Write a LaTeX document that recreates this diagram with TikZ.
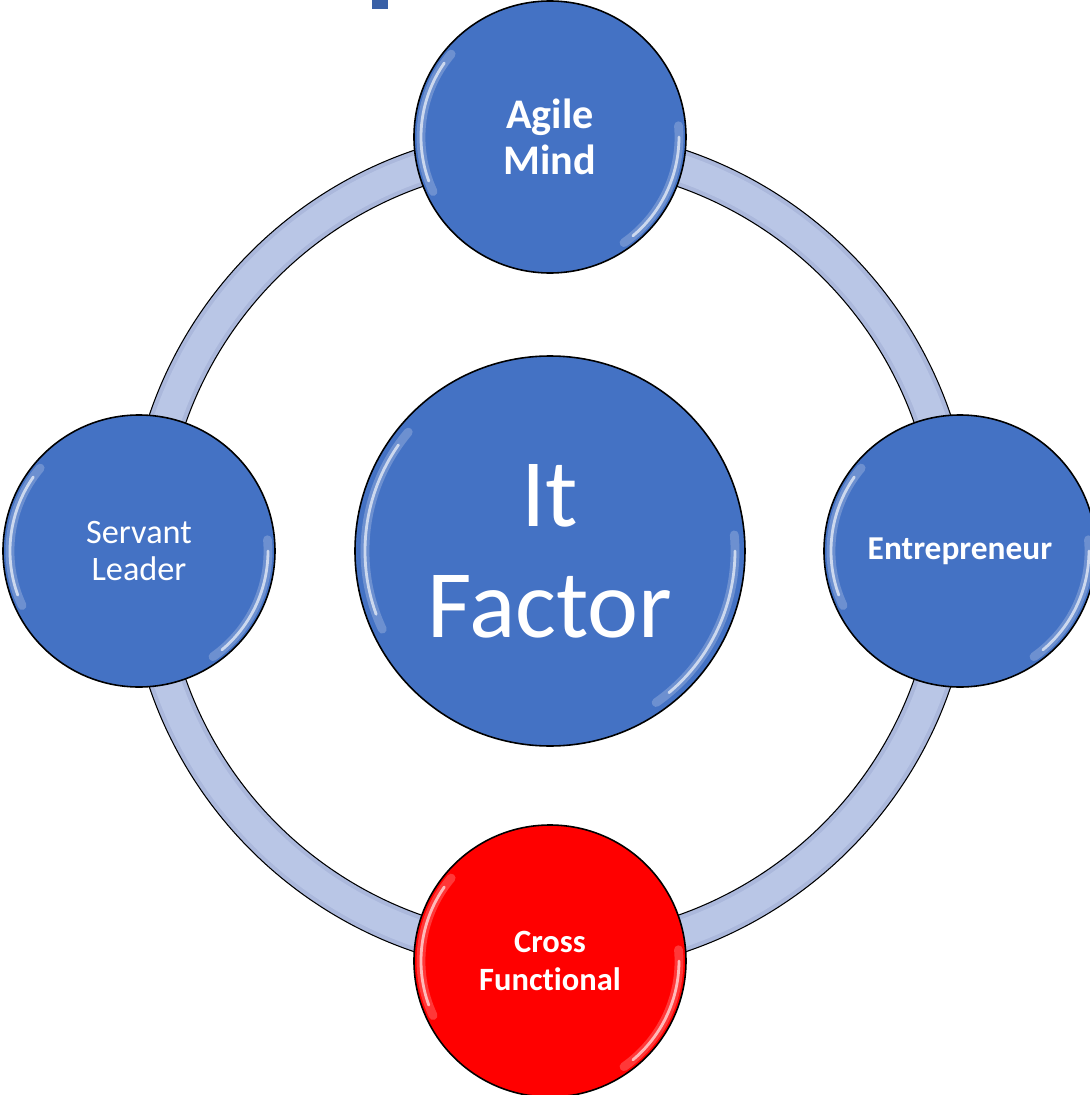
\documentclass[tikz,border=0pt]{standalone}
\usepackage{fontspec}
\setmainfont{Carlito}[Ligatures={NoCommon}]
\definecolor{itblue}{HTML}{4472C4}
\definecolor{itred}{HTML}{FF0000}
\definecolor{ringedge}{HTML}{ABB8DC}
\definecolor{ringmid}{HTML}{B9C6E6}
\begin{document}
\begin{tikzpicture}[
    ball/.style={circle, draw=black, line width=0.9pt, fill=itblue, text=white,
        align=center, inner sep=0pt, minimum size=5.44cm},
    glint/.style={white, opacity=0.65, line width=1.6pt, line cap=round},
    haze/.style={white, opacity=0.22, line width=5pt, line cap=round},
    glossy/.style={path picture={
        \draw [haze] ([shift={(140:#1)}]path picture bounding box.center)
            arc [start angle=140, end angle=205, radius=#1];
        \draw [glint] ([shift={(145:#1)}]path picture bounding box.center)
            arc [start angle=145, end angle=200, radius=#1];
        \draw [haze] ([shift={(5:#1)}]path picture bounding box.center)
            arc [start angle=5, end angle=-55, radius=#1];
        \draw [glint] ([shift={(0:#1)}]path picture bounding box.center)
            arc [start angle=0, end angle=-50, radius=#1];
    }}
]
    \useasboundingbox (-11,-10.88) rectangle (10.78,11.02);

    \fill [itblue!85!black] (-3.56,10.84) rectangle (-3.24,11.2);

    \draw [ringedge, line width=0.74cm] (0,0) circle (8.09);
    \draw [ringmid, line width=0.55cm] (0,0) circle (8.09);
    \draw [line width=0.6pt] (0,0) circle (8.46) (0,0) circle (7.72);

    \node [ball, glossy=3.7, minimum size=7.8cm,
        font=\fontsize{55}{63}\selectfont] (it) at (0,0) {It\\Factor};
    \node [ball, glossy=2.58, font=\bfseries\fontsize{24}{26}\selectfont]
        (agile) at (0,8.28) {Agile\\Mind};
    \node [ball, glossy=2.58, font=\bfseries\fontsize{19}{21.6}\selectfont]
        (entre) at (8.2,0) {Entrepreneur};
    \node [ball, glossy=2.58, fill=itred, font=\bfseries\fontsize{18.5}{21.6}\selectfont]
        (cross) at (0,-8.2) {Cross\\Functional};
    \node [ball, glossy=2.58, font=\fontsize{19.5}{21.6}\selectfont]
        (servant) at (-8.22,0) {Servant\\Leader};
\end{tikzpicture}
\end{document}
